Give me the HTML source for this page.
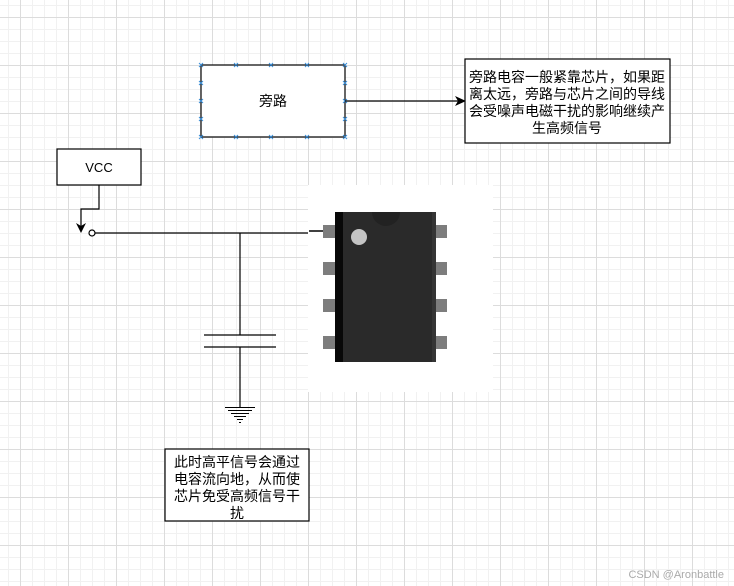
<!DOCTYPE html>
<html><head><meta charset="utf-8"><style>
html,body{margin:0;padding:0;background:#fff;}
body{width:734px;height:586px;overflow:hidden;position:relative;
background-image:
linear-gradient(to right,#dcdcdc 1px,transparent 1px),
linear-gradient(to bottom,#dcdcdc 1px,transparent 1px),
linear-gradient(to right,#f1f1f1 1px,transparent 1px),
linear-gradient(to bottom,#f1f1f1 1px,transparent 1px);
background-size:48px 48px,48px 48px,12px 12px,12px 12px;
background-position:20px 17px,20px 17px,8px 5px,8px 5px;}
svg{position:absolute;left:0;top:0;}
text{font-family:"Liberation Sans","Noto Sans CJK SC",sans-serif;}
</style></head><body>
<svg width="734" height="586" viewBox="0 0 734 586">
<rect x="308" y="185" width="185" height="207" fill="#fff"/>
<rect x="201" y="65" width="144" height="72" fill="#fff" stroke="#000" stroke-width="1.2"/>
<text x="273" y="106" font-size="14" text-anchor="middle">旁路</text>
<g stroke="#3b8fd8" stroke-width="1">
<path d="M199 63l4 4M203 63l-4 4M234 63l4 4M238 63l-4 4M269 63l4 4M273 63l-4 4M305 63l4 4M309 63l-4 4M343 63l4 4M347 63l-4 4"/>
<path d="M199 135l4 4M203 135l-4 4M234 135l4 4M238 135l-4 4M269 135l4 4M273 135l-4 4M305 135l4 4M309 135l-4 4M343 135l4 4M347 135l-4 4"/>
<path d="M199 81l4 4M203 81l-4 4M199 99l4 4M203 99l-4 4M199 117l4 4M203 117l-4 4"/>
<path d="M343 81l4 4M347 81l-4 4M343 99l4 4M347 99l-4 4M343 117l4 4M347 117l-4 4"/>
</g>
<line x1="345" y1="101" x2="458" y2="101" stroke="#000" stroke-width="1.2"/>
<path d="M466 101l-11 -5 3 5 -3 5z" fill="#000"/>
<rect x="465" y="59" width="205" height="84" fill="#fff" stroke="#000" stroke-width="1.2"/>
<g font-size="14" text-anchor="middle">
<text x="567" y="82">旁路电容一般紧靠芯片，如果距</text>
<text x="567" y="99">离太远，旁路与芯片之间的导线</text>
<text x="567" y="116">会受噪声电磁干扰的影响继续产</text>
<text x="567" y="133">生高频信号</text>
</g>
<rect x="57" y="149" width="84" height="36" fill="#fff" stroke="#000" stroke-width="1.2"/>
<text x="99" y="172" font-size="13" text-anchor="middle">VCC</text>
<path d="M99 185V209H81V226" fill="none" stroke="#000" stroke-width="1.2"/>
<path d="M81 233l-5 -10 5 3 5 -3z" fill="#000"/>
<circle cx="92" cy="233" r="3" fill="#fff" stroke="#000" stroke-width="1.2"/>
<line x1="95" y1="233" x2="308" y2="233" stroke="#000" stroke-width="1.2"/>
<line x1="309" y1="231" x2="324" y2="231" stroke="#000" stroke-width="1.5"/>
<line x1="240" y1="233" x2="240" y2="335" stroke="#000" stroke-width="1.2"/>
<line x1="204" y1="335" x2="276" y2="335" stroke="#000" stroke-width="1.2"/>
<line x1="204" y1="347" x2="276" y2="347" stroke="#000" stroke-width="1.2"/>
<line x1="240" y1="347" x2="240" y2="407" stroke="#000" stroke-width="1.2"/>
<g stroke="#000" stroke-width="1">
<line x1="225" y1="407.5" x2="255" y2="407.5"/>
<line x1="228" y1="410.5" x2="252" y2="410.5"/>
<line x1="231" y1="413.5" x2="249" y2="413.5"/>
<line x1="234" y1="416.5" x2="246" y2="416.5"/>
<line x1="237" y1="419.5" x2="243" y2="419.5"/>
<line x1="239" y1="422.5" x2="241" y2="422.5"/>
</g>
<rect x="165" y="449" width="144" height="72" fill="#fff" stroke="#000" stroke-width="1.2"/>
<g font-size="14" text-anchor="middle">
<text x="237" y="467">此时高平信号会通过</text>
<text x="237" y="484">电容流向地，从而使</text>
<text x="237" y="501">芯片免受高频信号干</text>
<text x="237" y="518">扰</text>
</g>
<g fill="#7d7d7d">
<rect x="323" y="225" width="13" height="13"/><rect x="323" y="262" width="13" height="13"/>
<rect x="323" y="299" width="13" height="13"/><rect x="323" y="336" width="13" height="13"/>
<rect x="435" y="225" width="12" height="13"/><rect x="435" y="262" width="12" height="13"/>
<rect x="435" y="299" width="12" height="13"/><rect x="435" y="336" width="12" height="13"/>
</g>
<rect x="335" y="212" width="101" height="150" fill="#2a2a2a"/>
<rect x="335" y="212" width="8" height="150" fill="#080808"/>
<rect x="432" y="212" width="4" height="150" fill="#353535"/>
<path d="M372 212a14 14 0 0 0 28 0z" fill="#222"/>
<circle cx="359" cy="237" r="8" fill="#c4c4c4"/>
<text x="724" y="578" font-size="11" fill="#aaa" text-anchor="end">CSDN @Aronbattle</text>
</svg>
</body></html>
